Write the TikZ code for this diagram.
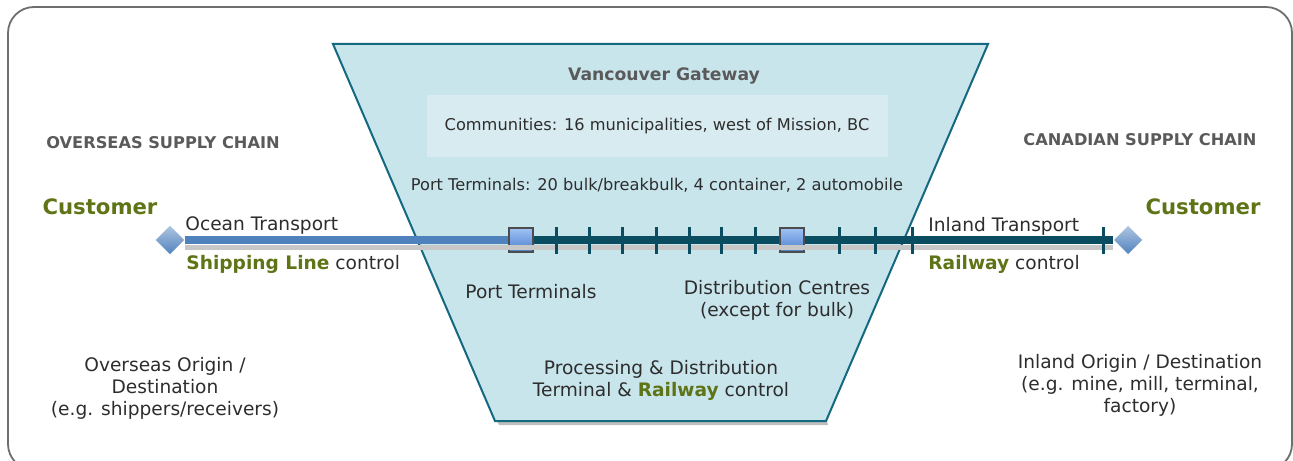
\documentclass[tikz,border=0pt]{standalone}
\usepackage{fontspec}
\setmainfont{DejaVu Sans}
\usetikzlibrary{shapes.geometric,positioning}

\definecolor{framegray}{RGB}{110,110,110}
\definecolor{headgray}{RGB}{90,90,90}
\definecolor{textgray}{RGB}{45,45,45}
\definecolor{custgreen}{RGB}{94,116,22}
\definecolor{funnelfill}{RGB}{200,229,236}
\definecolor{funnelline}{RGB}{20,104,128}
\definecolor{boxfill}{RGB}{216,235,240}
\definecolor{oceanblue}{RGB}{79,129,189}
\definecolor{railteal}{RGB}{10,76,96}
\definecolor{sqtop}{RGB}{160,195,245}
\definecolor{sqbot}{RGB}{75,125,205}

\newcommand{\grn}[1]{\textbf{\textcolor{custgreen}{#1}}}

\begin{document}
\begin{tikzpicture}[x=0.5pt,y=-0.5pt,
		txt/.style = {font=\fontsize{9.3}{11}\selectfont, text=textgray, align=center, inner sep=0pt},
		small/.style = {font=\fontsize{8.1}{10}\selectfont, text=textgray, inner sep=0pt},
		head/.style = {font=\bfseries\fontsize{8.1}{10}\selectfont, text=headgray, inner sep=0pt},
		cust/.style = {font=\bfseries\fontsize{10.6}{12}\selectfont, text=custgreen, inner sep=0pt},
		dia/.style = {diamond, draw=white, line width=0.4pt, top color=oceanblue!45, bottom color=oceanblue, minimum size=15pt, inner sep=0pt},
		sq/.style = {rectangle, draw=black!70, line width=1.4pt, top color=sqtop, bottom color=sqbot, minimum size=12pt, inner sep=0pt},
		tick/.style = {draw=railteal, line width=1.5pt},
		bar/.style = {line width=4pt}
		]
		\useasboundingbox (0,0) rectangle (1293,460);
		
		%outer frame
		\begin{scope}
		\clip (0,0) rectangle (1293,460);
		\draw[framegray, line width=0.9pt, rounded corners=13pt] (8,7) rectangle (1292,470);
		\end{scope}
		
		%funnel
		\fill[black!25] (497,421) -- (827,421) -- (828,425) -- (499,425) -- cycle;
		\draw[funnelline, fill=funnelfill, line width=1pt] (333,44) -- (988,44) -- (826,421) -- (495,421) -- cycle;
		
		\node[head, font=\bfseries\fontsize{8.6}{10}\selectfont] (gw) at (664,76) {Vancouver Gateway};
		\node[small, fill=boxfill, minimum width=230.5pt, minimum height=31pt] (comm) at (657,126)
		{Communities: 16 municipalities, west of Mission, BC};
		\node[small, below=10pt of comm] (ptinfo) {Port Terminals: 20 bulk/breakbulk, 4 container, 2 automobile};
		
		%side headings
		\node[head] (osc) at (163,143) {OVERSEAS SUPPLY CHAIN};
		\node[head] (csc) at (1140,140) {CANADIAN SUPPLY CHAIN};
		\node[cust] (custLt) at (100,207) {Customer};
		\node[cust] (custRt) at (1203,207) {Customer};
		
		%chain
		\node[dia] (custL) at (170,240) {};
		\node[dia] (custR) at (1128,240) {};
		\node[sq] (pt) at (521,240) {};
		\node[sq] (dc) at (792,240) {};
		
		\draw[black!22, line width=2.5pt] ([yshift=-3.5pt]custL.east) -- ([yshift=-3.5pt]custR.west);
		\draw[bar, oceanblue] (custL) -- (pt);
		\draw[bar, railteal] (pt) -- (dc);
		\draw[bar, railteal] (dc) -- (custR);
		\foreach \x in {556,589,622,656,689,721,755,839,875,912,1103}
		\draw[tick] (\x,227) -- (\x,254);
		
		%labels on the chain
		\node[txt, anchor=west] (ocean) at (185,226) {Ocean Transport};
		\node[txt, anchor=west] (shipctl) at (186,264) {\grn{Shipping Line} control};
		\node[txt, anchor=west] (inland) at (928,226) {Inland Transport};
		\node[txt, anchor=west] (railctl) at (928,264) {\grn{Railway} control};
		\node[txt] (ptlbl) at (531,292) {Port Terminals};
		\node[txt] (dclbl) at (777,300) {Distribution Centres\\(except for bulk)};
		\node[txt] (proc) at (661,380) {Processing \& Distribution\\Terminal \& \grn{Railway} control};
		
		%origins
		\node[txt] (oorig) at (165,388) {Overseas Origin /\\Destination\\(e.g. shippers/receivers)};
		\node[txt] (iorig) at (1140,385) {Inland Origin / Destination\\(e.g. mine, mill, terminal,\\factory)};
		
		\end{tikzpicture}
\end{document}
